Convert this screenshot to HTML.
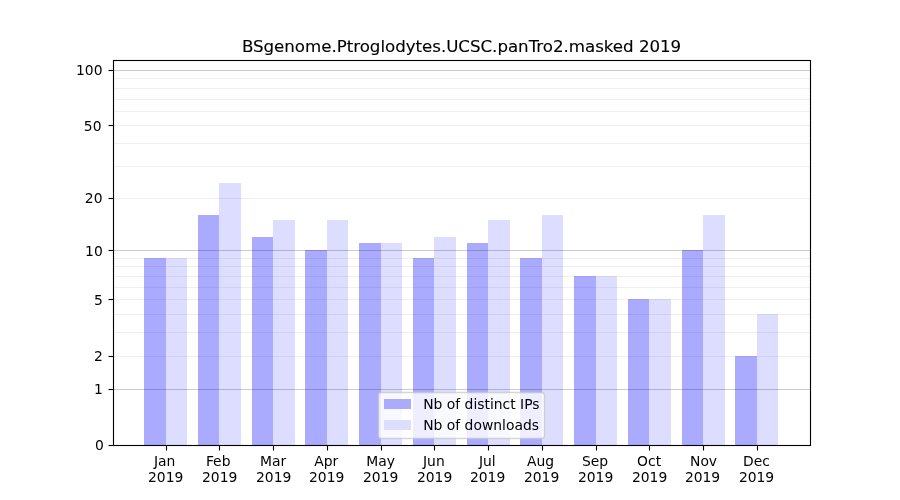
<!DOCTYPE html>
<html lang="en">
<head>
<meta charset="utf-8">
<title>BSgenome.Ptroglodytes.UCSC.panTro2.masked 2019</title>
<style>
html,body{margin:0;padding:0;background:#ffffff;}
body{width:900px;height:500px;overflow:hidden;}
svg{display:block;}
svg text{font-family:"DejaVu Sans","Liberation Sans",sans-serif;fill:#000000;}
.t10{font-size:13.889px;}
.t12{font-size:16.667px;stroke:#000000;stroke-width:0.12px;letter-spacing:-0.025px;}
.sp{stroke:#000000;stroke-width:1.111;fill:none;}
.gm{stroke:#000000;stroke-opacity:0.2;stroke-width:1.111;}
.gn{stroke:#000000;stroke-opacity:0.06;stroke-width:1.111;}
</style>
</head>
<body>
<svg width="900" height="500" viewBox="0 0 900 500">
<rect x="0" y="0" width="900" height="500" fill="#ffffff"/>
<g id="bars-ips" shape-rendering="crispEdges" fill="#aaaaff">
<rect x="144" y="258" width="22" height="187"/>
<rect x="198" y="215" width="21" height="230"/>
<rect x="252" y="237" width="21" height="208"/>
<rect x="305" y="250" width="22" height="195"/>
<rect x="359" y="243" width="22" height="202"/>
<rect x="413" y="258" width="21" height="187"/>
<rect x="467" y="243" width="21" height="202"/>
<rect x="520" y="258" width="22" height="187"/>
<rect x="574" y="276" width="22" height="169"/>
<rect x="628" y="299" width="21" height="146"/>
<rect x="682" y="250" width="21" height="195"/>
<rect x="735" y="356" width="22" height="89"/>
</g>
<g id="bars-downloads" shape-rendering="crispEdges" fill="#ddddff">
<rect x="166" y="258" width="21" height="187"/>
<rect x="219" y="183" width="22" height="262"/>
<rect x="273" y="220" width="22" height="225"/>
<rect x="327" y="220" width="21" height="225"/>
<rect x="381" y="243" width="21" height="202"/>
<rect x="434" y="237" width="22" height="208"/>
<rect x="488" y="220" width="22" height="225"/>
<rect x="542" y="215" width="21" height="230"/>
<rect x="596" y="276" width="21" height="169"/>
<rect x="649" y="299" width="22" height="146"/>
<rect x="703" y="215" width="22" height="230"/>
<rect x="757" y="314" width="21" height="131"/>
</g>
<g id="grid-minor" class="gn">
<line x1="113" x2="810.5" y1="356.5" y2="356.5"/>
<line x1="113" x2="810.5" y1="332.5" y2="332.5"/>
<line x1="113" x2="810.5" y1="314.5" y2="314.5"/>
<line x1="113" x2="810.5" y1="299.5" y2="299.5"/>
<line x1="113" x2="810.5" y1="287.5" y2="287.5"/>
<line x1="113" x2="810.5" y1="276.5" y2="276.5"/>
<line x1="113" x2="810.5" y1="266.5" y2="266.5"/>
<line x1="113" x2="810.5" y1="258.5" y2="258.5"/>
<line x1="113" x2="810.5" y1="198.5" y2="198.5"/>
<line x1="113" x2="810.5" y1="166.5" y2="166.5"/>
<line x1="113" x2="810.5" y1="143.5" y2="143.5"/>
<line x1="113" x2="810.5" y1="125.5" y2="125.5"/>
<line x1="113" x2="810.5" y1="111.5" y2="111.5"/>
<line x1="113" x2="810.5" y1="99.5" y2="99.5"/>
<line x1="113" x2="810.5" y1="88.5" y2="88.5"/>
<line x1="113" x2="810.5" y1="78.5" y2="78.5"/>
</g>
<g id="grid-major" class="gm">
<line x1="113" x2="810.5" y1="389.5" y2="389.5"/>
<line x1="113" x2="810.5" y1="250.5" y2="250.5"/>
<line x1="113" x2="810.5" y1="70.5" y2="70.5"/>
</g>
<g id="xticks" class="sp">
<line x1="166.5" x2="166.5" y1="445.5" y2="450.5"/>
<line x1="219.5" x2="219.5" y1="445.5" y2="450.5"/>
<line x1="273.5" x2="273.5" y1="445.5" y2="450.5"/>
<line x1="327.5" x2="327.5" y1="445.5" y2="450.5"/>
<line x1="381.5" x2="381.5" y1="445.5" y2="450.5"/>
<line x1="434.5" x2="434.5" y1="445.5" y2="450.5"/>
<line x1="488.5" x2="488.5" y1="445.5" y2="450.5"/>
<line x1="542.5" x2="542.5" y1="445.5" y2="450.5"/>
<line x1="596.5" x2="596.5" y1="445.5" y2="450.5"/>
<line x1="649.5" x2="649.5" y1="445.5" y2="450.5"/>
<line x1="703.5" x2="703.5" y1="445.5" y2="450.5"/>
<line x1="757.5" x2="757.5" y1="445.5" y2="450.5"/>
</g>
<g id="yticks" class="sp">
<line x1="108.5" x2="113.5" y1="445.5" y2="445.5"/>
<line x1="108.5" x2="113.5" y1="389.5" y2="389.5"/>
<line x1="108.5" x2="113.5" y1="356.5" y2="356.5"/>
<line x1="108.5" x2="113.5" y1="299.5" y2="299.5"/>
<line x1="108.5" x2="113.5" y1="250.5" y2="250.5"/>
<line x1="108.5" x2="113.5" y1="198.5" y2="198.5"/>
<line x1="108.5" x2="113.5" y1="125.5" y2="125.5"/>
<line x1="108.5" x2="113.5" y1="70.5" y2="70.5"/>
</g>
<rect class="sp" x="113.5" y="60.5" width="697" height="385"/>
<g id="xlabels" class="t10" text-anchor="middle">
<text x="164.70" y="466.08">Jan</text><text x="165.70" y="481.63">2019</text>
<text x="218.19" y="466.08">Feb</text><text x="219.69" y="481.63">2019</text>
<text x="273.17" y="466.08">Mar</text><text x="273.67" y="481.63">2019</text>
<text x="326.16" y="466.08">Apr</text><text x="326.66" y="481.63">2019</text>
<text x="380.65" y="466.08">May</text><text x="380.65" y="481.63">2019</text>
<text x="433.88" y="466.08">Jun</text><text x="434.63" y="481.63">2019</text>
<text x="487.37" y="466.08">Jul</text><text x="487.62" y="481.63">2019</text>
<text x="540.60" y="466.08">Aug</text><text x="541.60" y="481.63">2019</text>
<text x="595.09" y="466.08">Sep</text><text x="595.59" y="481.63">2019</text>
<text x="649.08" y="466.08">Oct</text><text x="649.58" y="481.63">2019</text>
<text x="703.56" y="466.08">Nov</text><text x="702.56" y="481.63">2019</text>
<text x="756.55" y="466.08">Dec</text><text x="756.55" y="481.63">2019</text>
</g>
<g id="ylabels" class="t10" text-anchor="end">
<text x="103.78" y="450.28">0</text>
<text x="102.78" y="393.94">1</text>
<text x="102.78" y="360.99">2</text>
<text x="102.78" y="304.65">5</text>
<text x="102.78" y="256.09">10</text>
<text x="102.53" y="202.83">20</text>
<text x="101.53" y="130.72">50</text>
<text x="102.53" y="75.18">100</text>
</g>
<text class="t12" text-anchor="middle" x="461.55" y="52.37">BSgenome.Ptroglodytes.UCSC.panTro2.masked 2019</text>
<g id="legend">
<rect x="378.5" y="392.5" width="166" height="46" rx="2.78" ry="2.78" fill="#ffffff" stroke="#cccccc" stroke-width="1.389" opacity="0.8"/>
<rect x="384" y="399" width="27" height="10" fill="#aaaaff" shape-rendering="crispEdges"/>
<rect x="384" y="420" width="27" height="10" fill="#ddddff" shape-rendering="crispEdges"/>
<text class="t10" x="423.24" y="409.23">Nb of distinct IPs</text>
<text class="t10" x="423.24" y="429.61">Nb of downloads</text>
</g>
</svg>
</body>
</html>
